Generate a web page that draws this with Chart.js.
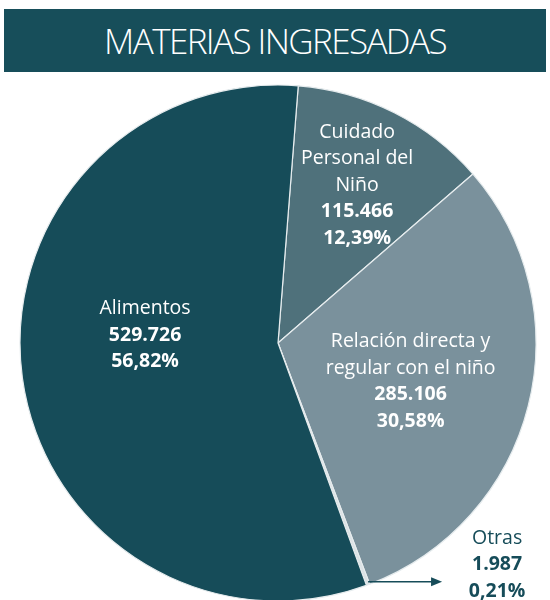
<!DOCTYPE html>
<html>
<head>
<meta charset="utf-8">
<script src="https://cdn.jsdelivr.net/npm/chart.js@4"></script>
<style>
  html, body { margin: 0; padding: 0; background: #fff; overflow: hidden; }
  #wrap { position: relative; width: 550px; height: 600px; }
  #banner {
    position: absolute; left: 4px; top: 9px; width: 542px; height: 63px;
    background: #174e5a; color: #fff; text-align: center;
    font-family: "Open Sans", sans-serif; font-weight: 300; font-size: 35px;
    line-height: 63px; letter-spacing: -1.6px;
  }
  #chart { position: absolute; left: 0; top: 0; }
</style>
</head>
<body>
<div id="wrap">
  <canvas id="chart" width="550" height="600"></canvas>
  <div id="banner">MATERIAS INGRESADAS</div>
</div>
<script>
const categories = ['Cuidado Personal del Niño', 'Relación directa y regular con el niño', 'Otras', 'Alimentos'];
const labelLines = [['Cuidado', 'Personal del', 'Niño'], ['Relación directa y', 'regular con el niño'], ['Otras'], ['Alimentos']];
const values = [115466, 285106, 1987, 529726];
const colors = ['#4f717b', '#7a919c', '#dbe2e5', '#164c59'];

const total = values.reduce((a, b) => a + b, 0);

function fmtNum(n) {
  return String(n).replace(/\B(?=(\d{3})+(?!\d))/g, '.');
}
function fmtPct(n) {
  return (n / total * 100).toFixed(2).replace('.', ',') + '%';
}

// label placement: fraction of radius along mid angle, plus vertical nudge
const labelPos = [
  { frac: 0.68, dy: -1 },
  { frac: 0.53, dy: 5 },
  null,
  { frac: 0.52, dy: -26 }
];

const labelPlugin = {
  id: 'sliceLabels',
  afterDatasetsDraw(chart) {
    const ctx = chart.ctx;
    const arcs = chart.getDatasetMeta(0).data;
    const lh = 26.5;
    ctx.save();
    ctx.textAlign = 'center';
    ctx.textBaseline = 'middle';
    arcs.forEach((arc, i) => {
      const { x, y, startAngle, endAngle, outerRadius } = arc.getProps(['x', 'y', 'startAngle', 'endAngle', 'outerRadius'], true);
      const mid = (startAngle + endAngle) / 2;
      const lines = labelLines[i].concat([fmtNum(values[i]), fmtPct(values[i])]);
      const nName = labelLines[i].length;
      let cx, cy, color = '#ffffff';
      if (labelPos[i]) {
        cx = x + Math.cos(mid) * outerRadius * labelPos[i].frac;
        cy = y + Math.sin(mid) * outerRadius * labelPos[i].frac + labelPos[i].dy;
      } else {
        // outside label with arrow
        const ex = x + Math.cos(mid) * outerRadius;
        const ey = y + Math.sin(mid) * outerRadius - 3;
        color = '#164c59';
        ctx.strokeStyle = color;
        ctx.fillStyle = color;
        ctx.lineWidth = 1.5;
        ctx.beginPath();
        ctx.moveTo(ex, ey);
        ctx.lineTo(ex + 70, ey);
        ctx.stroke();
        ctx.beginPath();
        ctx.moveTo(ex + 74, ey);
        ctx.lineTo(ex + 63, ey - 4.5);
        ctx.lineTo(ex + 63, ey + 4.5);
        ctx.closePath();
        ctx.fill();
        cx = ex + 129;
        cy = ey - 17;
      }
      const top = cy - (lines.length - 1) * lh / 2;
      ctx.fillStyle = color;
      lines.forEach((t, k) => {
        ctx.font = (k < nName ? '400 ' : '700 ') + '19.5px "Open Sans", sans-serif';
        ctx.fillText(t, cx, top + k * lh);
      });
    });
    ctx.restore();
  }
};

new Chart(document.getElementById('chart'), {
  type: 'pie',
  data: {
    labels: categories,
    datasets: [{
      data: values,
      backgroundColor: colors,
      borderColor: '#e6ecee',
      borderWidth: 1.2
    }]
  },
  options: {
    responsive: false,
    animation: false,
    rotation: 4.5,
    radius: 258,
    layout: { padding: { top: 86, bottom: 0, left: 6, right: 0 } },
    plugins: {
      legend: { display: false },
      tooltip: { enabled: false },
      title: { display: false }
    }
  },
  plugins: [labelPlugin]
});
</script>
</body>
</html>
